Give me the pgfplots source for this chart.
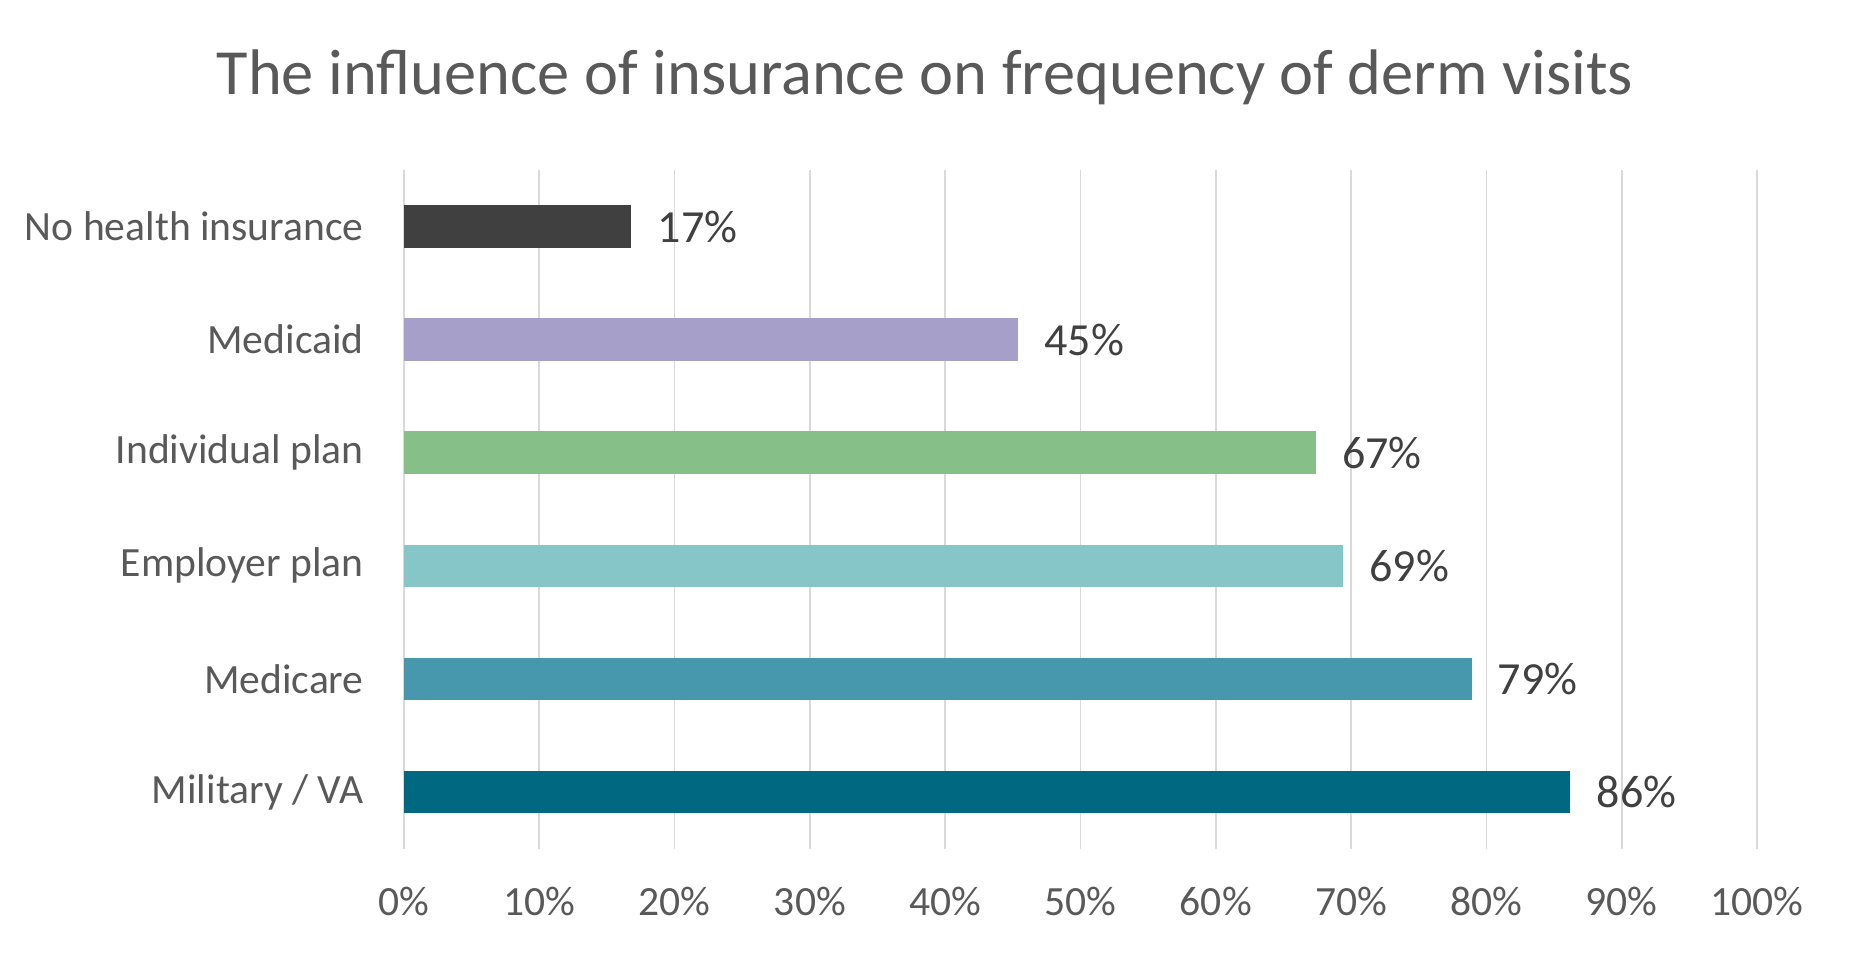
\documentclass[border=0pt]{standalone}
\usepackage{pgfplots}
\pgfplotsset{compat=1.18}
\usepackage{fontspec}
\setmainfont{Carlito}
\definecolor{txt}{HTML}{595959}
\definecolor{lbl}{HTML}{404040}
\definecolor{grd}{HTML}{D9D9D9}
\definecolor{cA}{HTML}{404040}
\definecolor{cB}{HTML}{A59FCA}
\definecolor{cC}{HTML}{86BF88}
\definecolor{cD}{HTML}{86C6C9}
\definecolor{cE}{HTML}{4798AD}
\definecolor{cF}{HTML}{006880}
\begin{document}
\begin{tikzpicture}
\useasboundingbox (0,0) rectangle (930pt,481pt);
\node[text=txt, font=\fontsize{32.2}{38}\selectfont] at (462.5pt,442.5pt) {The influence of insurance on frequency of derm visits};
\begin{axis}[
  at={(202pt,56.7pt)}, anchor=south west,
  scale only axis, width=676.5pt, height=339.3pt,
  xbar, bar shift=0pt, bar width=21.3pt,
  xmin=0, xmax=100, ymin=-0.5, ymax=5.5,
  axis line style={draw=none},
  major tick length=0pt,
  xtick={0,10,...,100},
  xticklabels={0\%,10\%,20\%,30\%,40\%,50\%,60\%,70\%,80\%,90\%,100\%},
  ytick={0,1,2,3,4,5},
  yticklabels={Military / VA,Medicare,Employer plan,Individual plan,Medicaid,No health insurance},
  xmajorgrids, ymajorgrids=false,
  grid style={grd, line width=0.9pt},
  tick label style={text=txt, font=\fontsize{20.8}{25}\selectfont},
  xticklabel style={anchor=center, yshift=-26.5pt},
  yticklabel style={anchor=east, inner sep=0pt, xshift=-20pt},
  /pgf/number format/assume math mode=true,
  nodes near coords={\pgfmathprintnumber[fixed,precision=0]{\pgfplotspointmeta}\%},
  point meta=x,
  nodes near coords style={anchor=west, inner sep=0pt, xshift=13pt, text=lbl, font=\fontsize{23}{27}\selectfont},
]
\addplot[fill=cF, draw=none] coordinates {(86.2,0)};
\addplot[fill=cE, draw=none] coordinates {(78.9,1)};
\addplot[fill=cD, draw=none] coordinates {(69.4,2)};
\addplot[fill=cC, draw=none] coordinates {(67.4,3)};
\addplot[fill=cB, draw=none] coordinates {(45.4,4)};
\addplot[fill=cA, draw=none] coordinates {(16.8,5)};
\end{axis}
\end{tikzpicture}
\end{document}
